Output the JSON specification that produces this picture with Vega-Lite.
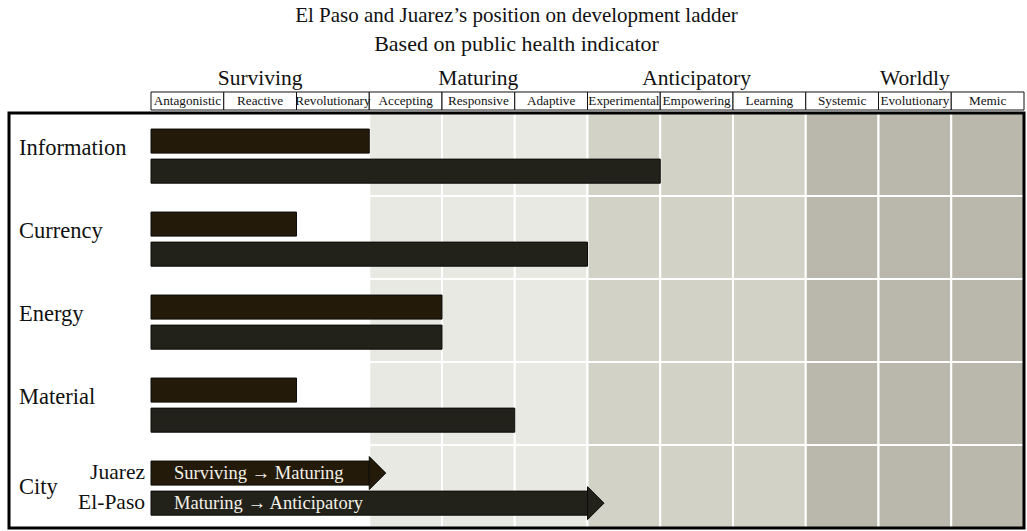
{
  "$schema": "https://vega.github.io/schema/vega-lite/v6.json",
  "background": "white",
  "padding": {"left": 7, "top": 5, "right": 4, "bottom": 2},
  "title": {
    "text": "El Paso and Juarez’s position on development ladder",
    "subtitle": "Based on public health indicator",
    "anchor": "middle",
    "font": "Liberation Serif",
    "subtitleFont": "Liberation Serif",
    "fontSize": 21,
    "subtitleFontSize": 22,
    "fontWeight": "normal",
    "color": "#111111",
    "subtitleColor": "#111111",
    "subtitlePadding": 8,
    "offset": 5
  },
  "datasets": {
    "levels": [
      {"level": "Antagonistic", "group": "Surviving"},
      {"level": "Reactive", "group": "Surviving"},
      {"level": "Revolutionary", "group": "Surviving"},
      {"level": "Accepting", "group": "Maturing"},
      {"level": "Responsive", "group": "Maturing"},
      {"level": "Adaptive", "group": "Maturing"},
      {"level": "Experimental", "group": "Anticipatory"},
      {"level": "Empowering", "group": "Anticipatory"},
      {"level": "Learning", "group": "Anticipatory"},
      {"level": "Systemic", "group": "Worldly"},
      {"level": "Evolutionary", "group": "Worldly"},
      {"level": "Memic", "group": "Worldly"}
    ],
    "groups": [
      {"group": "Surviving"},
      {"group": "Maturing"},
      {"group": "Anticipatory"},
      {"group": "Worldly"}
    ],
    "indicators": [
      {"indicator": "Information"},
      {"indicator": "Currency"},
      {"indicator": "Energy"},
      {"indicator": "Material"},
      {"indicator": "City"}
    ],
    "scores": [
      {"indicator": "Information", "city": "Juarez", "score": 3},
      {"indicator": "Information", "city": "El-Paso", "score": 7},
      {"indicator": "Currency", "city": "Juarez", "score": 2},
      {"indicator": "Currency", "city": "El-Paso", "score": 6},
      {"indicator": "Energy", "city": "Juarez", "score": 4},
      {"indicator": "Energy", "city": "El-Paso", "score": 4},
      {"indicator": "Material", "city": "Juarez", "score": 2},
      {"indicator": "Material", "city": "El-Paso", "score": 5}
    ],
    "transitions": [
      {"indicator": "City", "city": "Juarez", "score": 3, "stage": "Surviving → Maturing"},
      {"indicator": "City", "city": "El-Paso", "score": 6, "stage": "Maturing → Anticipatory"}
    ]
  },
  "spacing": 0,
  "vconcat": [
    {
      "width": 1015,
      "height": 50,
      "layer": [
        {
          "data": {"name": "groups"},
          "mark": {"type": "text", "fontSize": 21.5, "baseline": "middle", "color": "#111111"},
          "encoding": {
            "x": {"field": "group", "type": "nominal", "axis": null,
              "scale": {"type": "band", "domain": ["Surviving", "Maturing", "Anticipatory", "Worldly"], "paddingInner": 0, "paddingOuter": 0.3253, "align": 1}},
            "y": {"datum": "group", "type": "nominal", "axis": null,
              "scale": {"type": "band", "domain": ["group", "level"], "paddingInner": 0.182, "paddingOuter": 0.227, "align": 1}},
            "text": {"field": "group"}
          }
        },
        {
          "data": {"name": "levels"},
          "mark": {"type": "rect", "fill": "white", "stroke": "#111111", "strokeWidth": 1},
          "encoding": {
            "x": {"field": "level", "type": "nominal", "axis": null, "sort": null,
              "scale": {"type": "band", "domain": ["Antagonistic", "Reactive", "Revolutionary", "Accepting", "Responsive", "Adaptive", "Experimental", "Empowering", "Learning", "Systemic", "Evolutionary", "Memic"], "paddingInner": 0, "paddingOuter": 0.976, "align": 1}},
            "y": {"datum": "level", "type": "nominal", "axis": null}
          }
        },
        {
          "data": {"name": "levels"},
          "mark": {"type": "text", "fontSize": 13.2, "baseline": "middle", "color": "#111111"},
          "encoding": {
            "x": {"field": "level", "type": "nominal", "axis": null, "sort": null,
              "scale": {"type": "band", "domain": ["Antagonistic", "Reactive", "Revolutionary", "Accepting", "Responsive", "Adaptive", "Experimental", "Empowering", "Learning", "Systemic", "Evolutionary", "Memic"], "paddingInner": 0, "paddingOuter": 0.976, "align": 1}},
            "y": {"datum": "level", "type": "nominal", "axis": null},
            "text": {"field": "level"}
          }
        }
      ],
      "resolve": {"scale": {"x": "independent"}}
    },
    {
      "width": 1015,
      "height": 415,
      "layer": [
        {
          "data": {"name": "levels"},
          "mark": {"type": "rect", "stroke": "white", "strokeWidth": 2},
          "encoding": {
            "x": {"field": "level", "type": "nominal", "axis": null, "sort": null,
              "scale": {"type": "band", "domain": ["Antagonistic", "Reactive", "Revolutionary", "Accepting", "Responsive", "Adaptive", "Experimental", "Empowering", "Learning", "Systemic", "Evolutionary", "Memic"], "paddingInner": 0, "paddingOuter": 0.976, "align": 1}},
            "color": {"field": "group", "type": "nominal", "legend": null,
              "scale": {"domain": ["Surviving", "Maturing", "Anticipatory", "Worldly"], "range": ["#ffffff", "#e9e9e4", "#d2d2c7", "#bab8ac"]}}
          }
        },
        {
          "layer": [
            {
              "data": {"name": "indicators"},
              "mark": {"type": "rule", "color": "white", "strokeWidth": 2},
              "encoding": {
                "y": {"field": "indicator", "type": "nominal", "axis": null, "bandPosition": 0,
                  "scale": {"type": "band", "domain": ["Information", "Currency", "Energy", "Material", "City"], "paddingInner": 0, "paddingOuter": 0}}
              }
            },
            {
              "data": {"name": "scores"},
              "mark": {"type": "bar", "stroke": "#0c0c09", "strokeWidth": 1},
              "encoding": {
                "x": {"field": "score", "type": "quantitative", "axis": null,
                  "scale": {"domain": [-1.952, 12], "nice": false, "zero": false}},
                "y": {"field": "indicator", "type": "nominal", "axis": null},
                "yOffset": {"field": "city", "type": "nominal",
                  "scale": {"domain": ["Juarez", "El-Paso"], "paddingInner": 0.2, "paddingOuter": 0.48, "align": 0.556}},
                "color": {"field": "city", "type": "nominal", "legend": null,
                  "scale": {"domain": ["Juarez", "El-Paso"], "range": ["#231a0a", "#22221b"]}}
              }
            },
            {
              "data": {"name": "transitions"},
              "mark": {"type": "bar", "stroke": "#0c0c09", "strokeWidth": 1},
              "encoding": {
                "x": {"field": "score", "type": "quantitative", "axis": null},
                "y": {"field": "indicator", "type": "nominal", "axis": null},
                "yOffset": {"field": "city", "type": "nominal"},
                "color": {"field": "city", "type": "nominal", "legend": null}
              }
            },
            {
              "data": {"name": "transitions"},
              "mark": {"type": "point", "shape": "M0,-1L1,0L0,1Z", "size": 1089, "filled": true, "opacity": 1, "stroke": "#0c0c09", "strokeWidth": 1},
              "encoding": {
                "x": {"field": "score", "type": "quantitative", "axis": null},
                "y": {"field": "indicator", "type": "nominal", "axis": null},
                "yOffset": {"field": "city", "type": "nominal"},
                "color": {"field": "city", "type": "nominal", "legend": null}
              }
            },
            {
              "data": {"name": "transitions"},
              "mark": {"type": "text", "align": "left", "baseline": "middle", "fontSize": 18.5, "color": "#f4f1e8"},
              "encoding": {
                "x": {"datum": 0.316, "type": "quantitative", "axis": null},
                "y": {"field": "indicator", "type": "nominal", "axis": null},
                "yOffset": {"field": "city", "type": "nominal"},
                "text": {"field": "stage"}
              }
            },
            {
              "data": {"name": "transitions"},
              "mark": {"type": "text", "align": "right", "baseline": "middle", "fontSize": 21.5, "color": "#111111"},
              "encoding": {
                "x": {"datum": -0.0825, "type": "quantitative", "axis": null},
                "y": {"field": "indicator", "type": "nominal", "axis": null},
                "yOffset": {"field": "city", "type": "nominal"},
                "text": {"field": "city"}
              }
            },
            {
              "data": {"name": "indicators"},
              "transform": [{"filter": "datum.indicator !== 'City'"}],
              "mark": {"type": "text", "align": "left", "baseline": "middle", "fontSize": 22.5, "dy": -7, "color": "#111111"},
              "encoding": {
                "x": {"datum": -1.815, "type": "quantitative", "axis": null},
                "y": {"field": "indicator", "type": "nominal", "axis": null},
                "text": {"field": "indicator"}
              }
            },
            {
              "data": {"name": "indicators"},
              "transform": [{"filter": "datum.indicator === 'City'"}],
              "mark": {"type": "text", "align": "left", "baseline": "middle", "fontSize": 22.5, "color": "#111111"},
              "encoding": {
                "x": {"datum": -1.815, "type": "quantitative", "axis": null},
                "y": {"field": "indicator", "type": "nominal", "axis": null},
                "text": {"field": "indicator"}
              }
            },
            {
              "data": {"values": [{"frame": "border"}]},
              "mark": {"type": "rect", "fill": null, "filled": false, "stroke": "#000000", "strokeWidth": 3},
              "encoding": {}
            }
          ]
        }
      ],
      "resolve": {"scale": {"x": "independent", "color": "independent"}}
    }
  ],
  "config": {
    "font": "Liberation Serif",
    "view": {"stroke": null},
    "text": {"font": "Liberation Serif"}
  }
}
